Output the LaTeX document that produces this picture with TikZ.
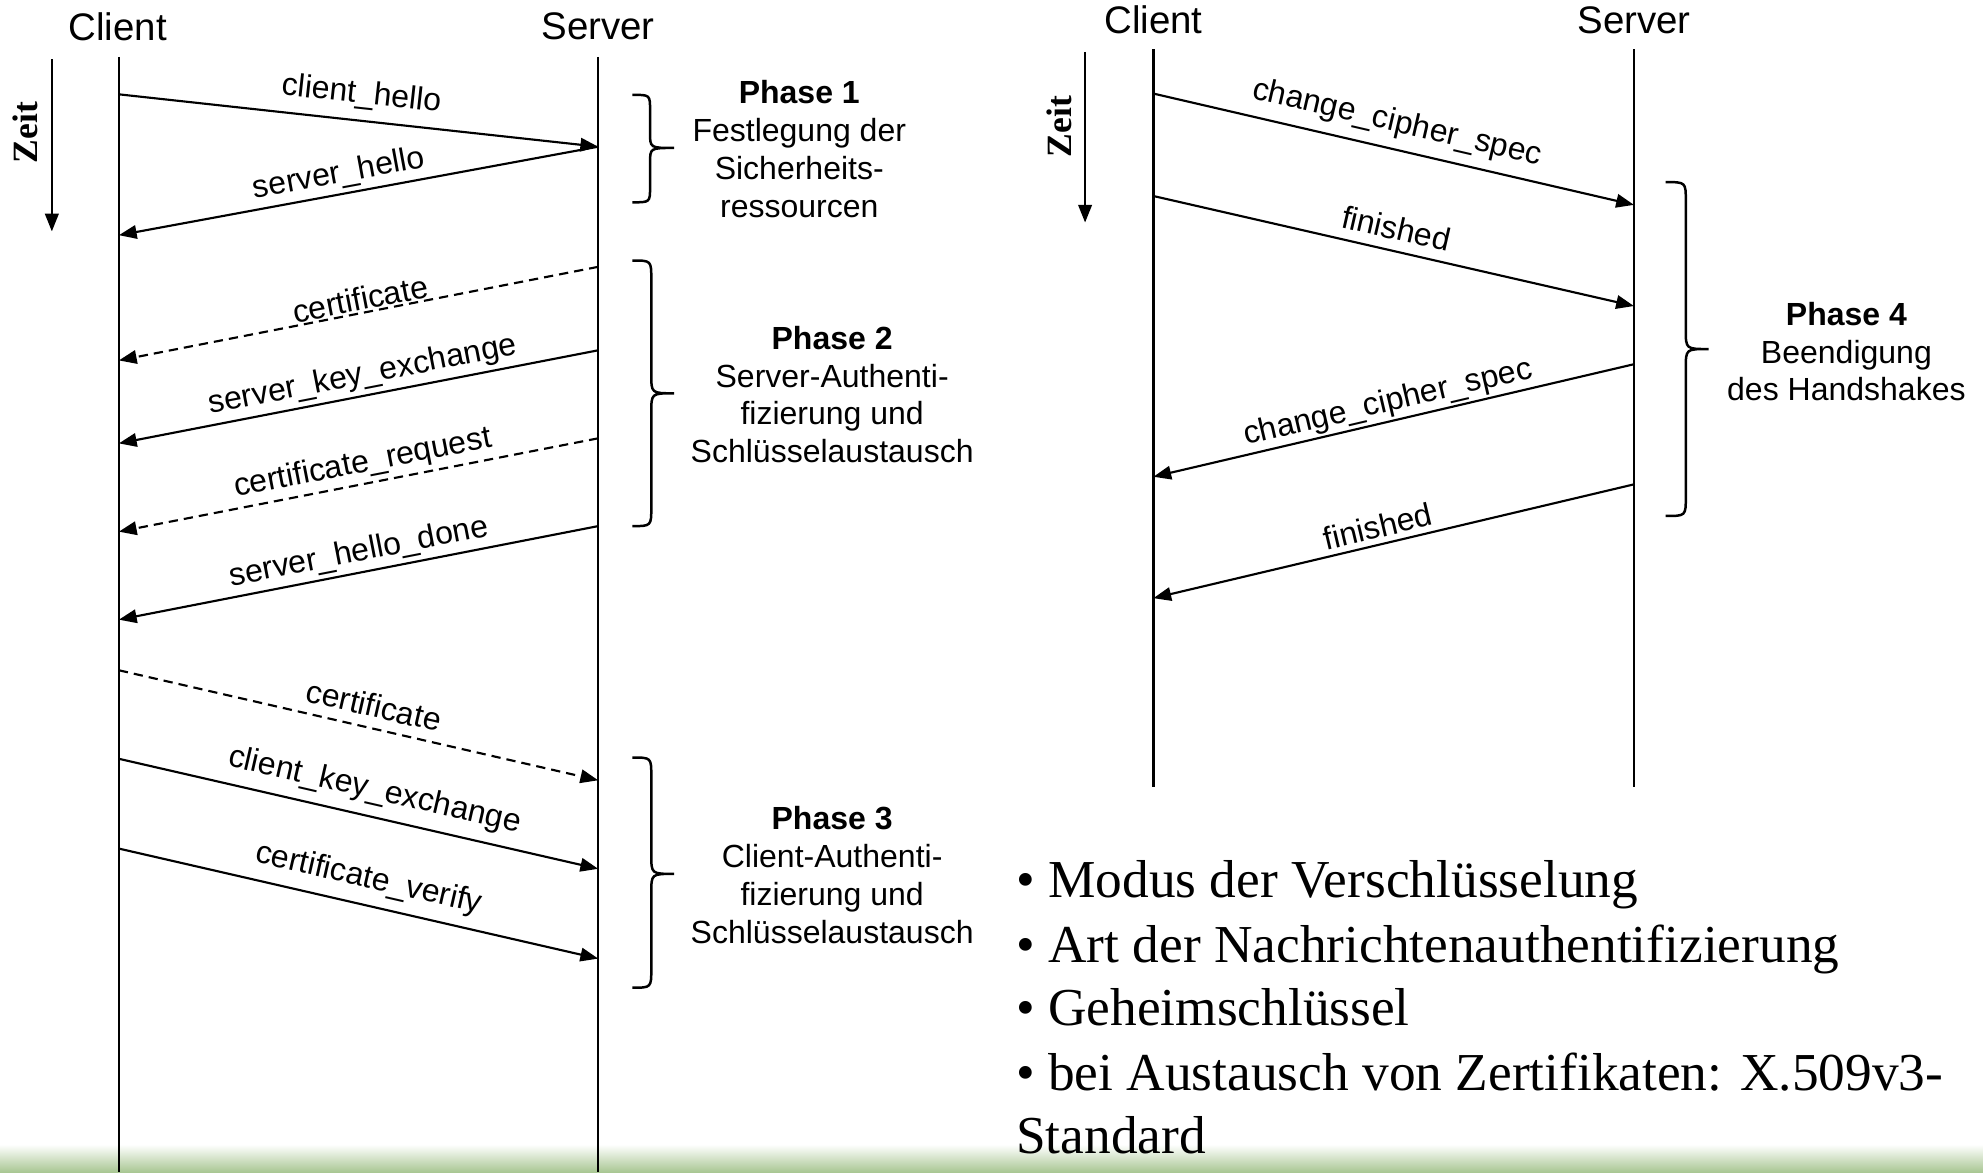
\documentclass[tikz,border=0pt]{standalone}
\usepackage{fontspec}
\setmainfont{Liberation Serif}
\setsansfont{Liberation Sans}
\usetikzlibrary{arrows.meta}
\definecolor{barg}{RGB}{168,198,146}
\begin{document}
\begin{tikzpicture}[x=0.0125cm,y=-0.0125cm,
  life/.style={line width=0.7pt},
  msg/.style={line width=0.6pt,-{Triangle[length=5pt,width=3.8pt]}},
  opt/.style={msg,dash pattern=on 2.6pt off 1.7pt},
  lbl/.style={sloped,anchor=south,inner sep=1.1pt,font=\sffamily\fontsize{9}{10}\selectfont},
  lblc/.style={lbl,inner sep=2.8pt},
  hdr/.style={font=\sffamily\fontsize{10.8}{12}\selectfont,inner sep=0pt},
  phase/.style={align=center,font=\sffamily\fontsize{9}{10.67}\selectfont,inner sep=0pt},
  zeit/.style={rotate=90,font=\rmfamily\bfseries\fontsize{10}{12}\selectfont,inner sep=0pt},
  bul/.style={anchor=base west,inner sep=0pt,font=\rmfamily\fontsize{15}{18}\selectfont},
  brc/.style={line width=0.7pt}]
\useasboundingbox (0,0) rectangle (1568,927);
\shade[top color=white,bottom color=barg] (0,905) rectangle (1568,927);

% ---------- left diagram ----------
\node[hdr] (cl1) at (93,21) {Client};
\node[hdr] (sv1) at (473,21) {Server};
\coordinate (cl1t) at (94,45);  \coordinate (cl1b) at (94,927);
\coordinate (sv1t) at (473,45); \coordinate (sv1b) at (473,927);
\draw[life] (cl1t) -- (cl1b);
\draw[life] (sv1t) -- (sv1b);

\node[zeit] (zeit1) at (20,105) {Zeit};
\coordinate (za1) at (41,47); \coordinate (zb1) at (41,183);
\draw[msg,line width=0.7pt] (za1) -- (zb1);

\coordinate (c1) at (94,74.6);  \coordinate (s1) at (473,116);
\coordinate (s2) at (473,116);  \coordinate (c2) at (94,186);
\coordinate (s3) at (473,211);  \coordinate (c3) at (94,285);
\coordinate (s4) at (473,277);  \coordinate (c4) at (94,350.6);
\coordinate (s5) at (473,346.6);\coordinate (c5) at (94,420.4);
\coordinate (s6) at (473,416);  \coordinate (c6) at (94,490);
\coordinate (c7) at (94,530);   \coordinate (s7) at (473,617);
\coordinate (c8) at (94,600);   \coordinate (s8) at (473,687);
\coordinate (c9) at (94,671);   \coordinate (s9) at (473,758);

\draw[msg] (c1) -- node[lblc,pos=0.5] (l1) {client\_hello} (s1);
\draw[msg] (s2) -- node[lbl,pos=0.533] (l2) {server\_hello} (c2);
\draw[opt] (s3) -- node[lbl,pos=0.491,inner sep=0.4pt] (l3) {certificate} (c3);
\draw[msg] (s4) -- node[lbl,pos=0.483] (l4) {server\_key\_exchange} (c4);
\draw[opt] (s5) -- node[lbl,pos=0.483] (l5) {certificate\_request} (c5);
\draw[msg] (s6) -- node[lbl,pos=0.491] (l6) {server\_hello\_done} (c6);
\draw[opt] (c7) -- node[lblc,pos=0.522] (l7) {certificate} (s7);
\draw[msg] (c8) -- node[lblc,pos=0.522] (l8) {client\_key\_exchange} (s8);
\draw[msg] (c9) -- node[lblc,pos=0.509] (l9) {certificate\_verify} (s9);

% braces
\draw[brc] (500,75) .. controls (514,75) .. (514,87) -- (514,105) .. controls (514,117) .. (533,117)
  .. controls (514,117) .. (514,129) -- (514,148) .. controls (514,160) .. (500,160);
\draw[brc] (500,206) .. controls (515,206) .. (515,221) -- (515,296) .. controls (515,311) .. (533,311)
  .. controls (515,311) .. (515,326) -- (515,401) .. controls (515,416) .. (500,416);
\draw[brc] (500,599) .. controls (515,599) .. (515,614) -- (515,676) .. controls (515,691) .. (533,691)
  .. controls (515,691) .. (515,706) -- (515,766) .. controls (515,781) .. (500,781);

\node[phase] (ph1) at (632,118) {\textbf{Phase 1}\\Festlegung der\\Sicherheits-\\ressourcen};
\node[phase] (ph2) at (658,312) {\textbf{Phase 2}\\Server-Authenti-\\fizierung und\\Schlüsselaustausch};
\node[phase] (ph3) at (658,692) {\textbf{Phase 3}\\Client-Authenti-\\fizierung und\\Schlüsselaustausch};

% ---------- right diagram ----------
\node[hdr] (cl2) at (912,16) {Client};
\node[hdr] (sv2) at (1292,16) {Server};
\coordinate (cl2t) at (912,39);  \coordinate (cl2b) at (912,622);
\coordinate (sv2t) at (1292,39); \coordinate (sv2b) at (1292,622);
\draw[life] (cl2t) -- (cl2b);
\draw[life] (sv2t) -- (sv2b);

\node[zeit] (zeit2) at (838,100) {Zeit};
\coordinate (za2) at (858,41); \coordinate (zb2) at (858,176);
\draw[msg,line width=0.7pt] (za2) -- (zb2);

\coordinate (c10) at (912,74);  \coordinate (s10) at (1292,162);
\coordinate (c11) at (912,155); \coordinate (s11) at (1292,242);
\coordinate (s12) at (1292,288);\coordinate (c12) at (912,377);
\coordinate (s13) at (1292,383);\coordinate (c13) at (912,473);

\draw[msg] (c10) -- node[lblc,pos=0.495] (l10) {change\_cipher\_spec} (s10);
\draw[msg] (c11) -- node[lblc,pos=0.495] (l11) {finished} (s11);
\draw[msg] (s12) -- node[lbl,pos=0.503,inner sep=0.6pt] (l12) {change\_cipher\_spec} (c12);
\draw[msg] (s13) -- node[lbl,pos=0.524,inner sep=1.5pt] (l13) {finished} (c13);

\draw[brc] (1317,144) .. controls (1333,144) .. (1333,159) -- (1333,261) .. controls (1333,276) .. (1351,276)
  .. controls (1333,276) .. (1333,291) -- (1333,393) .. controls (1333,408) .. (1317,408);
\node[phase] (ph4) at (1460,278) {\textbf{Phase 4}\\Beendigung\\des Handshakes};

% ---------- bullets ----------
\node[bul] (b1) at (803,710) {• Modus der Verschlüsselung};
\node[bul] (b2) at (803,761) {• Art der Nachrichtenauthentifizierung};
\node[bul] (b3) at (803,811) {• Geheimschlüssel};
\node[bul] (b4) at (803,862) {• bei Austausch von Zertifikaten: X.509v3-};
\node[bul] (b5) at (803,912) {Standard};
\end{tikzpicture}
\end{document}
